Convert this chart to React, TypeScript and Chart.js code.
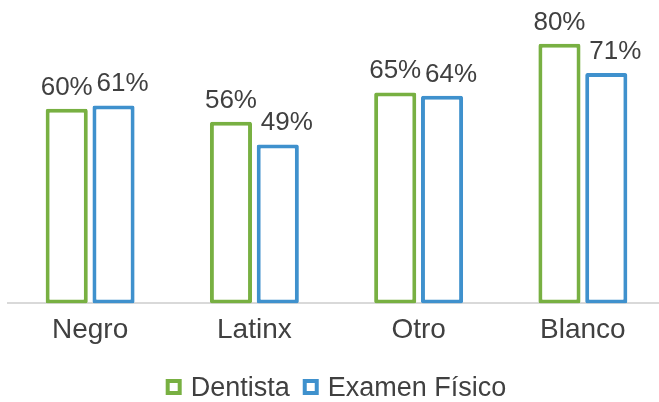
import React, { useEffect, useRef } from "react";
import { Chart, registerables } from "chart.js";

Chart.register(...registerables);

const categories = ["Negro", "Latinx", "Otro", "Blanco"];
const dentista = [60, 56, 65, 80];
const examenFisico = [61, 49, 64, 71];
const seriesNames = ["Dentista", "Examen Físico"];

const GREEN = "#78B042";
const BLUE = "#3F91CD";
const TEXT = "#404040";
const FONT = "'Liberation Sans', Arial, Helvetica, sans-serif";

const labelPlugin = {
  id: "barLabels",
  afterDatasetsDraw(chart: any) {
    const ctx = chart.ctx;
    ctx.save();
    ctx.font = `26px ${FONT}`;
    ctx.fillStyle = TEXT;
    ctx.textAlign = "center";
    ctx.textBaseline = "alphabetic";
    chart.data.datasets.forEach((ds: any, i: number) => {
      const meta = chart.getDatasetMeta(i);
      meta.data.forEach((bar: any, j: number) => {
        const dx = i === 1 ? 9 : 0;
        ctx.fillText(`${ds.data[j]}%`, bar.x + dx, bar.y - 14);
      });
    });
    ctx.restore();
  },
};

const legendPlugin = {
  id: "customLegend",
  afterDraw(chart: any) {
    const ctx = chart.ctx;
    ctx.save();
    ctx.font = `27px ${FONT}`;
    ctx.textBaseline = "alphabetic";
    ctx.textAlign = "left";
    const box = 16;
    const gapText = 9;
    const gapItem = 13;
    const items = chart.data.datasets.map((ds: any) => ({
      label: ds.label,
      color: ds.borderColor,
      w: ctx.measureText(ds.label).width,
    }));
    let total = 0;
    items.forEach((it: any, k: number) => {
      total += box + gapText + it.w + (k < items.length - 1 ? gapItem : 0);
    });
    let x = 336 - total / 2;
    const baseline = 396;
    const boxTop = 379;
    items.forEach((it: any) => {
      ctx.fillStyle = "#FFFFFF";
      ctx.fillRect(x, boxTop, box, box);
      ctx.strokeStyle = it.color;
      ctx.lineWidth = 4;
      ctx.strokeRect(x + 2, boxTop + 2, box - 4, box - 4);
      x += box + gapText;
      ctx.fillStyle = TEXT;
      ctx.fillText(it.label, x, baseline);
      x += it.w + gapItem;
    });
    ctx.restore();
  },
};

export default function App() {
  const ref = useRef<HTMLCanvasElement | null>(null);
  useEffect(() => {
    if (!ref.current) return;
    const common = {
      backgroundColor: "#FFFFFF",
      borderWidth: 4,
      borderRadius: 2,
      borderSkipped: false,
      categoryPercentage: 0.57,
      barPercentage: 0.9,
    };
    const chart = new Chart(ref.current, {
      type: "bar",
      data: {
        labels: categories,
        datasets: [
          { ...common, label: seriesNames[0], data: dentista, borderColor: GREEN },
          { ...common, label: seriesNames[1], data: examenFisico, borderColor: BLUE },
        ],
      },
      options: {
        animation: false,
        responsive: true,
        maintainAspectRatio: false,
        layout: { padding: { left: 8, right: 0, top: 0, bottom: 45 } },
        plugins: {
          legend: { display: false },
          tooltip: { enabled: false },
        },
        scales: {
          x: {
            grid: { display: false, drawTicks: false },
            border: { color: "#D9D9D9", width: 2 },
            ticks: {
              font: { family: FONT, size: 28 },
              color: TEXT,
              padding: 10,
            },
          },
          y: {
            display: false,
            min: 0,
            max: 93.5,
          },
        },
      },
      plugins: [labelPlugin, legendPlugin],
    });
    return () => chart.destroy();
  }, []);
  return (
    <div style={{ position: "fixed", left: 0, top: 0, width: 659, height: 402, overflow: "hidden" }}>
      <div style={{ position: "absolute", left: 0, top: 0, width: 665, height: 402 }}>
        <canvas ref={ref} />
      </div>
    </div>
  );
}
